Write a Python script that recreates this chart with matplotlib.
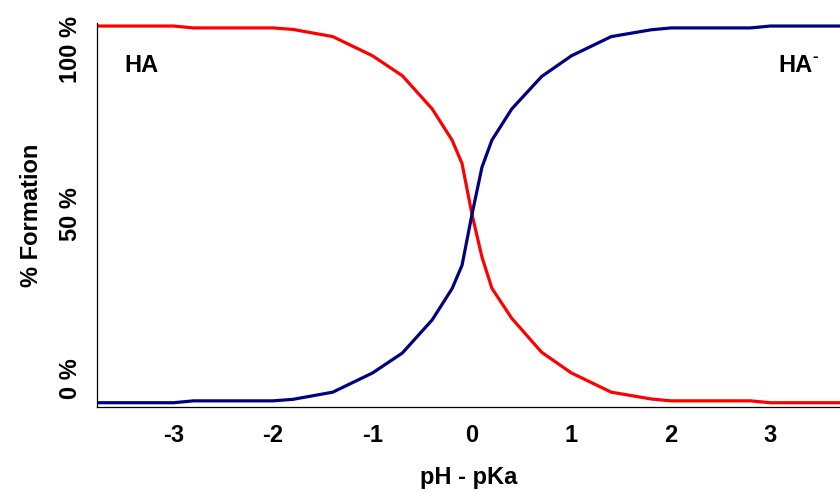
import matplotlib
matplotlib.use('Agg')
import matplotlib.pyplot as plt
from matplotlib.transforms import ScaledTranslation

# pH - pKa sample points and % formation
ph_pka = [-3.8, -3.0, -2.8, -2.0, -1.8, -1.4, -1.0, -0.7, -0.4, -0.2, -0.1, 0.0,
          0.1, 0.2, 0.4, 0.7, 1.0, 1.4, 1.8, 2.0, 2.8, 3.0, 3.8]
ha_pct = [100, 100, 99.5, 99.5, 99.1, 97.2, 92.1, 86.8, 78.0, 69.7, 63.5, 50.0,
          38.7, 30.4, 22.4, 13.4, 7.9, 2.8, 1.0, 0.5, 0.5, 0, 0]
a_pct = [0, 0, 0.5, 0.5, 0.9, 2.8, 7.9, 13.2, 22.0, 30.3, 36.5, 50.0,
         62.5, 69.7, 78.0, 86.6, 92.1, 97.2, 99.0, 99.5, 99.5, 100, 100]

x_ticks = [-3, -2, -1, 0, 1, 2, 3]
y_ticks = [0, 50, 100]
y_labels = ['0 %', '50 %', '100 %']

plt.rcParams['font.family'] = 'Liberation Sans'
plt.rcParams['font.weight'] = 'bold'

fig = plt.figure(figsize=(8.4, 4.93), dpi=100)
ax = fig.add_axes([0.1155, 0.1744, 0.8845, 0.7789])

ax.plot(ph_pka, ha_pct, color='#FF0000', lw=2.3)
ax.plot(ph_pka, a_pct, color='#000080', lw=2.3)

ax.set_xlim(-3.77, 3.70)
ax.set_ylim(-1.14, 100.8)

for s in ['top', 'right']:
    ax.spines[s].set_visible(False)
for s in ['left', 'bottom']:
    ax.spines[s].set_linewidth(0.9)

ax.set_xticks(x_ticks)
ax.set_xticklabels([str(t) for t in x_ticks], fontsize=17, fontweight='bold')
ax.set_yticks(y_ticks)
ax.set_yticklabels(y_labels, fontsize=17, fontweight='bold', rotation=90, va='center')
ax.tick_params(axis='x', length=0, pad=12)
ax.tick_params(axis='y', length=0, pad=11)

# the end labels sit inside the axis range
labs = ax.get_yticklabels()
labs[0].set_transform(labs[0].get_transform() + ScaledTranslation(0, 17/72, fig.dpi_scale_trans))
labs[2].set_transform(labs[2].get_transform() + ScaledTranslation(0, -17/72, fig.dpi_scale_trans))

ax.set_xlabel('pH - pKa', fontsize=17, fontweight='bold', labelpad=14)
ax.set_ylabel('% Formation', fontsize=17, fontweight='bold', labelpad=11)

ax.text(-3.49, 89.6, 'HA', fontsize=17, fontweight='bold', ha='left', va='center')
ax.text(3.08, 89.6, 'HA', fontsize=17, fontweight='bold', ha='left', va='center')
ax.text(3.425, 91.8, '-', fontsize=12, fontweight='bold', ha='left', va='center')

fig.savefig('out.png', dpi=100)
